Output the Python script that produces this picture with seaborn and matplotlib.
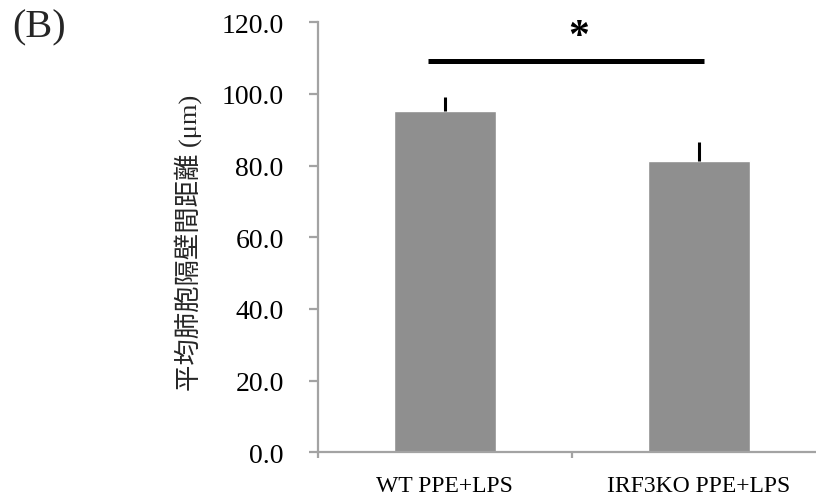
import matplotlib
matplotlib.use("Agg")
import matplotlib.pyplot as plt
import seaborn as sns
import pandas as pd
from matplotlib.ticker import FixedLocator, FormatStrFormatter

# Mean alveolar septal distance per group (µm)
groups = ["WT PPE+LPS", "IRF3KO PPE+LPS"]
means = [95.2, 81.3]
errors = [3.9, 5.3]
yticks = [0, 20, 40, 60, 80, 100, 120]
sig_height = 109.2
sig_label = "*"

df = pd.DataFrame({"group": groups, "mean": means})

sns.set_theme(style="white")
plt.rcParams["font.family"] = ["Liberation Serif", "Noto Sans CJK JP"]

fig = plt.figure(figsize=(8.16, 5.02), dpi=100)
ax = fig.add_axes([317.7 / 816, 48.7 / 502, 508 / 816, 430 / 502])

axis_grey = "#a3a3a3"
sns.barplot(data=df, x="group", y="mean", color="#8f8f8f", saturation=1,
            width=0.4, errorbar=None, ax=ax, zorder=2)

# upward-only error bars
ax.errorbar(range(len(groups)), means, yerr=[[0] * len(errors), errors],
            fmt="none", ecolor="black", elinewidth=2.2, capsize=0, zorder=3)

# significance bar and star
ax.plot([-0.067, 1.02], [sig_height, sig_height], color="black",
        lw=3.6, solid_capstyle="butt", zorder=4, clip_on=False)
ax.text(0.527, 116.0, sig_label, ha="center", va="center", fontsize=30,
        fontweight="bold", color="black", clip_on=False)

ax.set_xlim(-0.5, 1.5)
ax.set_ylim(0, 120)
ax.set_yticks(yticks)
ax.yaxis.set_major_formatter(FormatStrFormatter("%.1f"))
ax.set_xlabel("")
ax.set_ylabel("平均肺胞隔壁間距離 (μm)", fontsize=19, va="center")
ax.yaxis.set_label_coords(-0.255, 0.49)

for side in ["top", "right"]:
    ax.spines[side].set_visible(False)
for side in ["left", "bottom"]:
    ax.spines[side].set_color(axis_grey)
    ax.spines[side].set_linewidth(1.6)

ax.tick_params(axis="y", which="major", direction="out", left=True,
               length=6.5, width=1.6, color=axis_grey, labelsize=20,
               pad=18, labelcolor="black")
ax.tick_params(axis="x", which="major", length=0, labelsize=17,
               pad=16, labelcolor="black")
ax.xaxis.set_minor_locator(FixedLocator([-0.5, 0.5, 1.5]))
ax.tick_params(axis="x", which="minor", direction="out", bottom=True,
               length=4.5, width=1.6, color=axis_grey)

fig.text(12 / 816, 1 - 28 / 502, "(B)", fontsize=29, ha="left", va="center")

fig.savefig("out.png", dpi=100)
